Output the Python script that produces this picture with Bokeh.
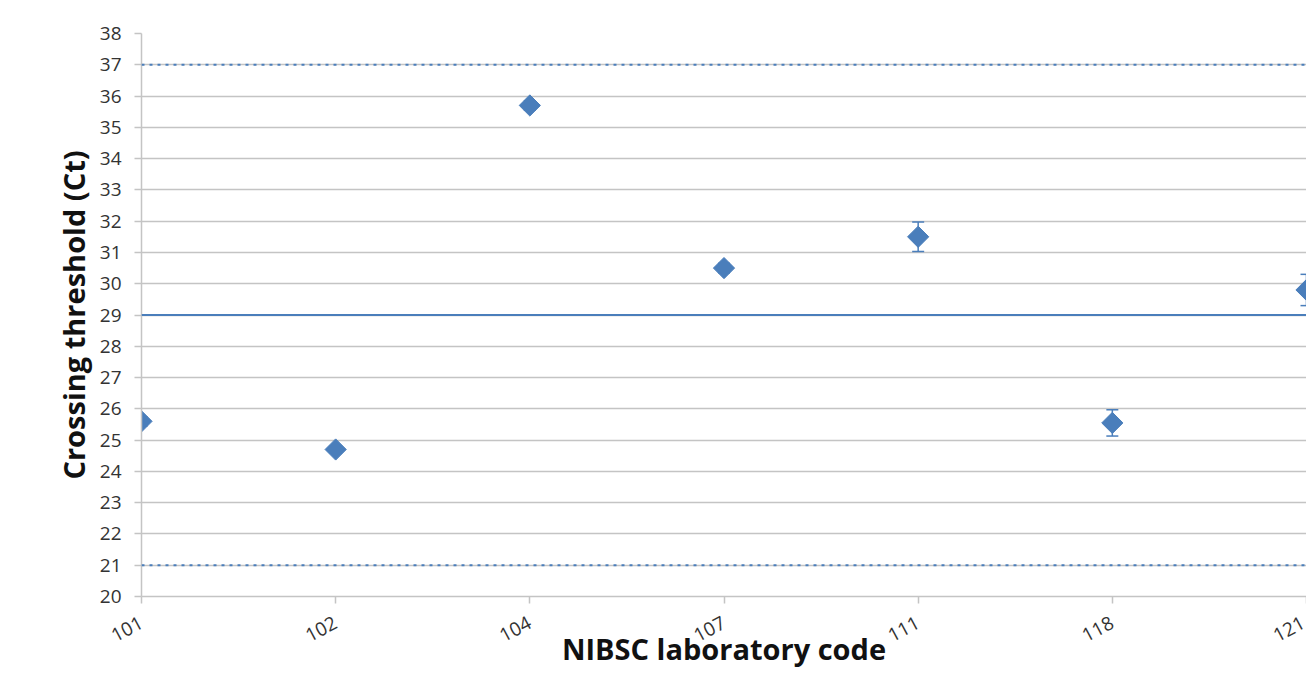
import math
from bokeh.plotting import figure
from bokeh.models import ColumnDataSource, Range1d, FixedTicker, Whisker, TeeHead, Span
from bokeh.embed import file_html
from bokeh.resources import INLINE

# ---- data ----
lab_codes = ["101", "102", "104", "107", "111", "118", "121"]
ct_mean = [25.6, 24.7, 35.7, 30.5, 31.5, 25.55, 29.8]
ct_err = [0.15, 0.12, 0.15, 0.15, 0.47, 0.42, 0.5]
overall_mean = 29.0
upper_limit = 37.0
lower_limit = 21.0
y_ticks = list(range(20, 39))

BLUE = "#4a7ebb"
GRID = "#c4c4c4"
FONT = "Open Sans"

xs = list(range(len(lab_codes)))
src = ColumnDataSource(dict(
    x=xs, y=ct_mean,
    upper=[m + e for m, e in zip(ct_mean, ct_err)],
    lower=[m - e for m, e in zip(ct_mean, ct_err)],
))

p = figure(width=1306, height=693, output_backend="svg", toolbar_location=None,
           x_range=Range1d(0, len(lab_codes) - 1), y_range=Range1d(20, 38),
           min_border_left=141, min_border_right=0, min_border_top=33, min_border_bottom=97)
p.outline_line_color = None
p.background_fill_color = "white"
p.border_fill_color = "white"

# axes
p.xaxis.ticker = FixedTicker(ticks=xs)
p.xaxis.major_label_overrides = {i: c for i, c in enumerate(lab_codes)}
p.xaxis.major_label_orientation = math.radians(28)
p.yaxis.ticker = FixedTicker(ticks=y_ticks)
for ax in (p.xaxis[0], p.yaxis[0]):
    ax.axis_line_color = GRID
    ax.axis_line_width = 1.5
    ax.major_tick_line_color = GRID
    ax.major_tick_line_width = 1.5
    ax.major_tick_out = 7
    ax.major_tick_in = 0
    ax.minor_tick_line_color = None
    ax.major_label_text_font = FONT
    ax.major_label_text_font_size = "19px"
    ax.major_label_text_color = "#333333"
    ax.axis_label_text_font = FONT
    ax.axis_label_text_font_style = "bold"
    ax.axis_label_text_font_size = "29px"
    ax.axis_label_text_color = "#111111"
p.xaxis.axis_label = "NIBSC laboratory code"
p.yaxis.axis_label = "Crossing threshold (Ct)"
p.xaxis.major_label_standoff = 18
p.yaxis.major_label_standoff = 13
p.xaxis.axis_label_standoff = -22
p.yaxis.axis_label_standoff = 4

p.xgrid.grid_line_color = None
p.ygrid.grid_line_color = GRID
p.ygrid.grid_line_width = 1.5

# reference lines
p.add_layout(Span(location=overall_mean, dimension="width", line_color=BLUE, line_width=2))
for lim in (upper_limit, lower_limit):
    p.add_layout(Span(location=lim, dimension="width", line_color=BLUE,
                      line_width=2, line_dash="3 5"))

# error bars
w = Whisker(source=src, base="x", upper="upper", lower="lower",
            line_color=BLUE, line_width=1.5,
            upper_head=TeeHead(size=12, line_color=BLUE, line_width=1.5),
            lower_head=TeeHead(size=12, line_color=BLUE, line_width=1.5))
p.add_layout(w)

# markers
p.scatter("x", "y", source=src, marker="square", size=15, angle=math.pi / 4,
          fill_color=BLUE, line_color=BLUE)

open("out.html", "w").write(file_html(p, INLINE))
